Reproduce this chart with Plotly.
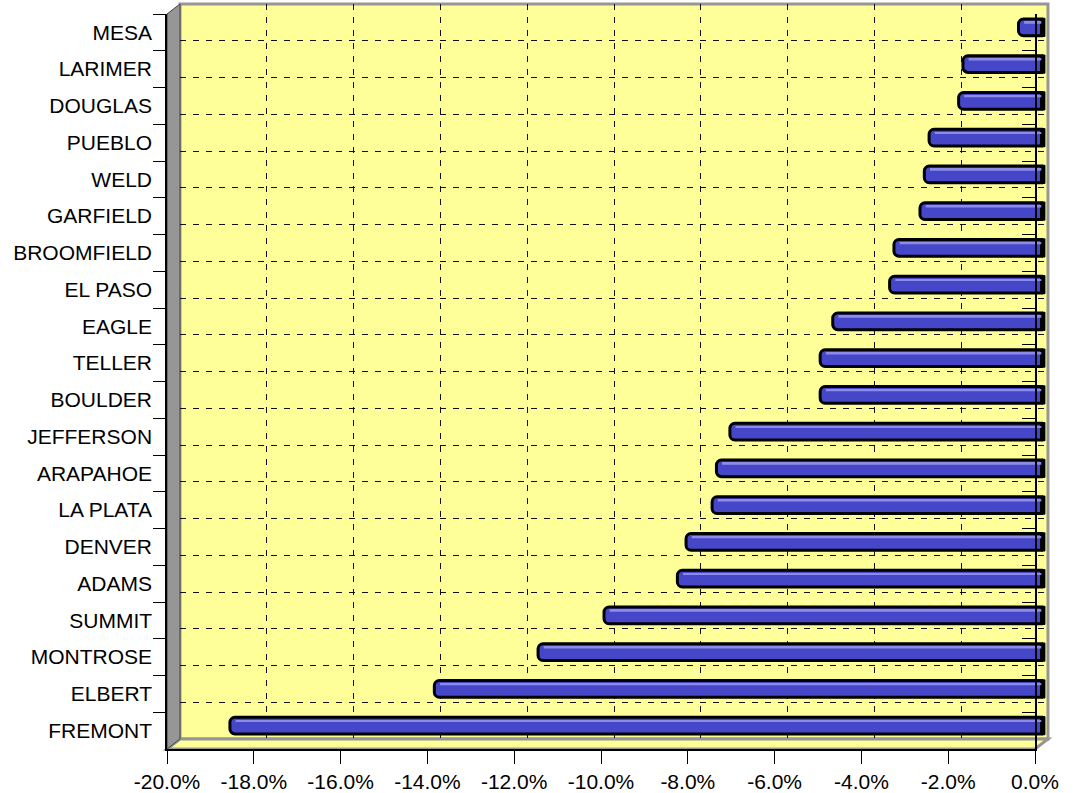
import plotly.graph_objects as go

# Percent change by county, listed top to bottom as drawn
COUNTIES = [
    "MESA", "LARIMER", "DOUGLAS", "PUEBLO", "WELD", "GARFIELD", "BROOMFIELD",
    "EL PASO", "EAGLE", "TELLER", "BOULDER", "JEFFERSON", "ARAPAHOE",
    "LA PLATA", "DENVER", "ADAMS", "SUMMIT", "MONTROSE", "ELBERT", "FREMONT",
]
CHANGE_PCT = [
    -0.53, -1.81, -1.91, -2.59, -2.70, -2.80, -3.40,
    -3.50, -4.81, -5.10, -5.10, -7.18, -7.49,
    -7.59, -8.19, -8.39, -10.08, -11.60, -13.99, -18.70,
]
X_TICKS = [-20, -18, -16, -14, -12, -10, -8, -6, -4, -2, 0]
X_TICK_TEXT = ["-20.0%", "-18.0%", "-16.0%", "-14.0%", "-12.0%", "-10.0%",
               "-8.0%", "-6.0%", "-4.0%", "-2.0%", "0.0%"]
GRID_X = [-18, -16, -14, -12, -10, -8, -6, -4, -2]
GRID_Y = list(range(1, 20))

W, H = 1075, 793
FONT = "Liberation Sans, Arial, Helvetica, sans-serif"
FONT_SIZE = 21
YELLOW = "#FFFF99"
GREY = "#969696"
BAR_BLUE = "#4646C8"
BAR_SHINE = "#8C8CE8"

# pseudo-3D box: front plane, back wall offset right/up
FL, FR, FT, FB = 167, 1035, 14, 749
DX, DY = 13, 10
PX_PER_PCT = (FR - FL) / 20.0
CAP_PCT = 0.09          # dark end cap past zero
X3_MAX = 0.3


def fx(p):
    return p / W


def fy(p):
    return 1 - p / H


def path(points):
    s = "M " + " L ".join(f"{fx(x):.5f},{fy(y):.5f}" for x, y in points)
    return s + " Z"


n = len(COUNTIES)
cat_range = [n - 0.5, -0.5]

fig = go.Figure()

# back wall grid holder
fig.add_trace(go.Scatter(x=CHANGE_PCT, y=list(range(n)), mode="none",
                         xaxis="x", yaxis="y", hoverinfo="skip", showlegend=False))

# cylinders (mid depth)
fig.add_trace(go.Bar(
    x=CHANGE_PCT, y=COUNTIES, orientation="h", xaxis="x2", yaxis="y2",
    width=0.45,
    marker=dict(color=BAR_BLUE, line=dict(color="black", width=3), cornerradius=5),
    showlegend=False, hoverinfo="x+y",
))
fig.add_trace(go.Bar(
    x=[v + 0.13 for v in CHANGE_PCT], y=COUNTIES, orientation="h",
    xaxis="x2", yaxis="y2", width=0.05, offset=-0.15,
    marker=dict(color=BAR_SHINE, line=dict(width=0)),
    showlegend=False, hoverinfo="skip",
))
fig.add_trace(go.Bar(
    x=[CAP_PCT] * n, y=COUNTIES, orientation="h", base=0,
    xaxis="x2", yaxis="y2", width=0.52,
    marker=dict(color="black", line=dict(width=0), cornerradius=4),
    showlegend=False, hoverinfo="skip",
))

# front axes (labels, ticks, axis lines)
fig.add_trace(go.Scatter(x=CHANGE_PCT, y=COUNTIES, mode="none",
                         xaxis="x3", yaxis="y3", hoverinfo="skip", showlegend=False))
fig.add_trace(go.Scatter(x=CHANGE_PCT, y=COUNTIES, mode="none",
                         xaxis="x3", yaxis="y4", hoverinfo="skip", showlegend=False))

grid = dict(showgrid=True, gridcolor="#111111", gridwidth=1, griddash="6px,7px",
            showticklabels=False, ticks="", showline=False, zeroline=False,
            automargin=False)

shapes = [
    # back wall
    dict(type="path", xref="paper", yref="paper", layer="below",
         path=path([(FL + DX, FT - DY), (FR + DX, FT - DY), (FR + DX, FB - DY), (FL + DX, FB - DY)]),
         fillcolor=YELLOW, line=dict(color=GREY, width=3)),
    # floor
    dict(type="path", xref="paper", yref="paper", layer="below",
         path=path([(FL, FB), (FL + DX, FB - DY), (FR + DX, FB - DY), (FR, FB)]),
         fillcolor=YELLOW, line=dict(color=GREY, width=3)),
    # side wall
    dict(type="path", xref="paper", yref="paper", layer="below",
         path=path([(FL, FT), (FL + DX, FT - DY), (FL + DX, FB - DY), (FL, FB)]),
         fillcolor=GREY, line=dict(color="#444444", width=1)),
]

tick_font = dict(family=FONT, size=FONT_SIZE, color="black")

fig.update_layout(
    width=W, height=H, autosize=False,
    margin=dict(l=0, r=0, t=0, b=0, pad=0, autoexpand=False),
    paper_bgcolor="white", plot_bgcolor="rgba(0,0,0,0)",
    barmode="overlay", showlegend=False,
    font=dict(family=FONT, size=FONT_SIZE, color="black"),
    shapes=shapes,
    # back wall gridlines
    xaxis=dict(domain=[fx(FL + DX), fx(FR + DX)], anchor="y", range=[-20, 0],
               tickvals=GRID_X, **grid),
    yaxis=dict(domain=[fy(FB - DY), fy(FT - DY)], anchor="x", range=[n, 0],
               tickvals=GRID_Y, **grid),
    # bars, half depth
    xaxis2=dict(domain=[fx(FL + DX / 2), fx(FR + DX / 2 + X3_MAX * PX_PER_PCT)], anchor="y2",
                range=[-20, X3_MAX], visible=False, automargin=False),
    yaxis2=dict(domain=[fy(FB - DY / 2), fy(FT - DY / 2)], anchor="x2", type="category",
                categoryorder="array", categoryarray=COUNTIES, range=cat_range,
                visible=False, automargin=False),
    # front plane
    xaxis3=dict(domain=[fx(FL), fx(FR)], anchor="y3", range=[-20, 0],
                tickvals=X_TICKS, ticktext=X_TICK_TEXT, ticks="outside", ticklen=13,
                tickcolor="black", tickwidth=1, showline=True, linecolor="black",
                linewidth=1.5, showgrid=False, zeroline=False, automargin=False,
                tickfont=tick_font),
    yaxis3=dict(domain=[fy(FB), fy(FT)], anchor="x3", type="category",
                categoryorder="array", categoryarray=COUNTIES, range=cat_range,
                tickson="boundaries", ticks="outside", ticklen=12, tickcolor="black",
                tickwidth=1, showline=True, linecolor="black", linewidth=1.5,
                showgrid=False, zeroline=False, automargin=False,
                ticklabelstandoff=9, tickfont=tick_font),
    yaxis4=dict(overlaying="y3", side="right", anchor="x3", type="category",
                categoryorder="array", categoryarray=COUNTIES, range=cat_range,
                tickson="boundaries", ticks="inside", ticklen=13, tickcolor="black",
                tickwidth=1, showline=True, linecolor="black", linewidth=1.5,
                showticklabels=False, showgrid=False, zeroline=False, automargin=False),
)

fig.write_html("out.html")
